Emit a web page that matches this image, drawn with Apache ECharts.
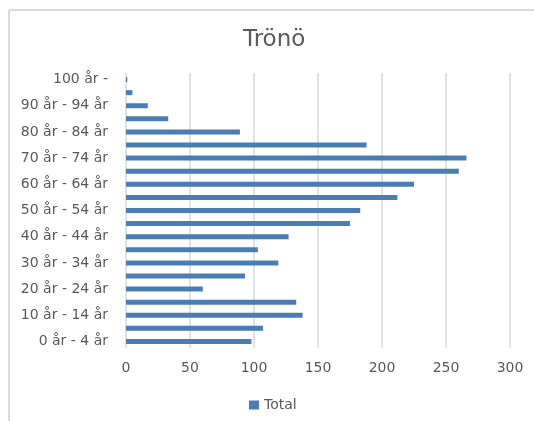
<!DOCTYPE html>
<html>
<head>
<meta charset="utf-8">
<script src="https://cdn.jsdelivr.net/npm/echarts@6/dist/echarts.min.js"></script>
<style>
html,body{margin:0;padding:0;background:#fff;}
#chart{width:534px;height:421px;}
</style>
</head>
<body>
<div id="chart"></div>
<script>
var categories = ["0 år - 4 år","5 år - 9 år","10 år - 14 år","15 år - 19 år","20 år - 24 år","25 år - 29 år","30 år - 34 år","35 år - 39 år","40 år - 44 år","45 år - 49 år","50 år - 54 år","55 år - 59 år","60 år - 64 år","65 år - 69 år","70 år - 74 år","75 år - 79 år","80 år - 84 år","85 år - 89 år","90 år - 94 år","95 år - 99 år","100 år -"];
var totals = [98,107,138,133,60,93,119,103,127,175,183,212,225,260,266,188,89,33,17,5,1];
var xTicks = [0,50,100,150,200,250,300];

var chart = echarts.init(document.getElementById('chart'));
var font = '"DejaVu Sans", sans-serif';
chart.setOption({
  animation: false,
  backgroundColor: '#fff',
  title: {
    text: 'Trönö',
    left: 238, top: 24,
    textStyle: {fontFamily: font, fontSize: 23, fontWeight: 'normal', color: '#595959'}
  },
  graphic: [
    {type: 'line', shape: {x1: 9, y1: 10, x2: 534, y2: 10}, style: {stroke: '#d9d9d9', lineWidth: 2}},
    {type: 'line', shape: {x1: 9, y1: 10, x2: 9, y2: 421}, style: {stroke: '#d9d9d9', lineWidth: 2}}
  ],
  legend: {
    data: ['Total'],
    left: 244, top: 393,
    itemWidth: 10, itemHeight: 9, itemGap: 5,
    icon: 'rect',
    textStyle: {fontFamily: font, fontSize: 14, color: '#595959'}
  },
  grid: {left: 126, right: 24, top: 73, bottom: 73, containLabel: false},
  xAxis: {
    type: 'value', min: 0, max: 300, interval: 50,
    axisLine: {show: false}, axisTick: {show: false},
    splitLine: {lineStyle: {color: '#d9d9d9', width: 1.5}},
    axisLabel: {fontFamily: font, fontSize: 14, color: '#595959', margin: 13,
      formatter: function(v){ return xTicks.indexOf(v) >= 0 ? String(v) : ''; }}
  },
  yAxis: {
    type: 'category', data: categories,
    axisLine: {show: false}, axisTick: {show: false},
    axisLabel: {interval: 1, fontFamily: font, fontSize: 14, color: '#595959', margin: 18}
  },
  series: [{
    name: 'Total', type: 'bar', data: totals,
    barWidth: 5,
    itemStyle: {color: '#4a7db4'}
  }]
});
</script>
</body>
</html>
